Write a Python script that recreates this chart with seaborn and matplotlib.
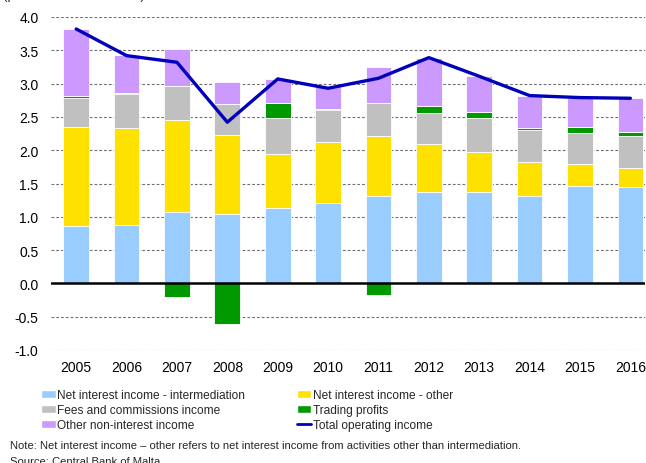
import numpy as np
import pandas as pd
import matplotlib
matplotlib.use("Agg")
import matplotlib.pyplot as plt
from matplotlib.patches import Patch
from matplotlib.lines import Line2D
import seaborn as sns

# -------------------------------------------------
# Banks' operating income components (per cent)
# -------------------------------------------------

years = ["2005", "2006", "2007", "2008", "2009", "2010",
         "2011", "2012", "2013", "2014", "2015", "2016"]
nii_intermediation = [0.86, 0.88, 1.07, 1.04, 1.13, 1.21, 1.31, 1.37, 1.37, 1.31, 1.46, 1.44]
nii_other = [1.49, 1.45, 1.39, 1.19, 0.81, 0.91, 0.91, 0.73, 0.61, 0.52, 0.34, 0.29]
fees = [0.43, 0.52, 0.50, 0.46, 0.55, 0.49, 0.49, 0.46, 0.51, 0.48, 0.46, 0.49]
trading = [0.04, 0.01, -0.21, -0.61, 0.22, 0.01, -0.17, 0.11, 0.09, 0.03, 0.09, 0.06]
other_nonint = [1.00, 0.57, 0.56, 0.34, 0.36, 0.34, 0.54, 0.72, 0.54, 0.48, 0.44, 0.50]
total_income = [3.82, 3.42, 3.32, 2.42, 3.07, 2.93, 3.08, 3.39, 3.11, 2.82, 2.79, 2.78]

names = ["Net interest income - intermediation", "Net interest income - other",
         "Fees and commissions income", "Trading profits", "Other non-interest income"]
colors = ["#99CCFF", "#FFE100", "#C0C0C0", "#009900", "#CC99FF"]
line_color = "#0000BB"

df = pd.DataFrame({
    "Year": years,
    names[0]: nii_intermediation,
    names[1]: nii_other,
    names[2]: fees,
    names[3]: trading,
    names[4]: other_nonint,
    "Total": total_income,
})

sns.set_theme(style="white")
plt.rcParams["font.family"] = ["Liberation Sans", "DejaVu Sans"]

fig = plt.figure(figsize=(6.46, 4.64), dpi=100)
ax = fig.add_axes([51 / 646, 1 - 351 / 464, 594 / 646, 333 / 464])

# stack positive parts upward, negative parts downward
pos_base = np.zeros(len(years))
neg_base = np.zeros(len(years))
for name, col in zip(names, colors):
    vals = df[name].to_numpy()
    bottoms = np.where(vals >= 0, pos_base, neg_base)
    sns.barplot(x=df["Year"], y=vals, bottom=bottoms, color=col, width=0.51,
                edgecolor="white", linewidth=0.6, saturation=1, ax=ax, zorder=2)
    pos_base = pos_base + np.where(vals >= 0, vals, 0)
    neg_base = neg_base + np.where(vals < 0, vals, 0)

sns.lineplot(x=df["Year"], y=df["Total"], color=line_color, linewidth=2.4,
             sort=False, ax=ax, zorder=4)

# grid and zero line
for yv in np.arange(-1.0, 4.01, 0.5):
    if abs(yv) > 1e-9:
        ax.axhline(yv, color="#707070", linestyle=(0, (2.5, 1.8)), linewidth=0.8, zorder=1)
ax.axhline(0, color="black", linewidth=1.8, zorder=3)

ax.set_ylim(-1.0, 4.0)
ax.set_xlim(-0.5, 11.29)
ax.set_yticks(np.arange(-1.0, 4.01, 0.5))
ax.set_yticklabels([f"{v:.1f}" for v in np.arange(-1.0, 4.01, 0.5)])
ax.set_xlabel("")
ax.set_ylabel("")
ax.tick_params(axis="both", length=0, labelsize=10, colors="black")
ax.tick_params(axis="y", pad=9)
ax.tick_params(axis="x", pad=7)
for s in ax.spines.values():
    s.set_visible(False)

# legend (column-major order for ncol=2)
handles = [
    Patch(facecolor=colors[0], label=names[0]),
    Patch(facecolor=colors[2], label=names[2]),
    Patch(facecolor=colors[4], label=names[4]),
    Patch(facecolor=colors[1], label=names[1]),
    Patch(facecolor=colors[3], label=names[3]),
    Line2D([0], [0], color=line_color, linewidth=2, label="Total operating income"),
]
fig.legend(handles=handles, ncol=2, frameon=False, fontsize=8.6,
           loc="upper left", bbox_to_anchor=(33 / 646, 1 - 382 / 464),
           handlelength=1.2, handleheight=0.7, handletextpad=0.15,
           columnspacing=4.3, labelspacing=0.25, borderpad=0.2)

# cropped heading and notes
fig.text(3 / 646, 1 + 0.5 / 464, "(per cent of total assets)", fontsize=9.5,
         va="baseline", ha="left")
fig.text(10 / 646, 1 - 446 / 464,
         "Note: Net interest income \u2013 other refers to net interest income "
         "from activities other than intermediation.",
         fontsize=8.1, va="center", ha="left")
fig.text(10 / 646, 1 - 462 / 464, "Source: Central Bank of Malta",
         fontsize=8.1, va="center", ha="left")

plt.savefig("out.png", dpi=100)
